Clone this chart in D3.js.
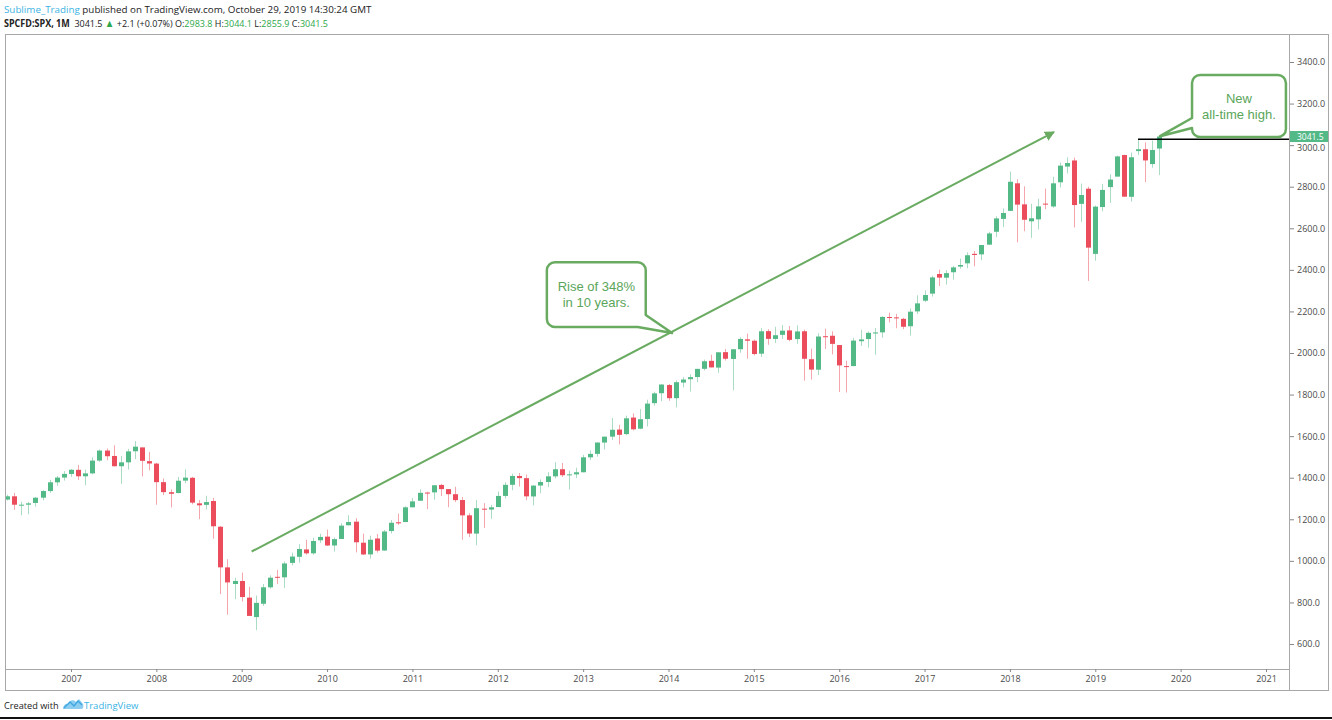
<!DOCTYPE html>
<html>
<head>
<meta charset="utf-8">
<style>
  body { margin: 0; background: #fff; }
  svg { display: block; font-family: "Open Sans", sans-serif; }
</style>
</head>
<body>
<script src="https://d3js.org/d3.v7.min.js"></script>
<script>

// monthly SPX candles, first bar = April 2006
var firstMonth = new Date(Date.UTC(2006, 3, 1));

var open = [
  1294.83, 1310.61, 1270.05, 1270.20, 1278.53, 1303.80, 1335.82, 1377.76, 1400.63,
  1418.03, 1437.90, 1406.80, 1420.83, 1482.37, 1530.62, 1504.66, 1455.18, 1473.96, 1527.29, 1545.79, 1479.63,
  1467.97, 1378.60, 1330.45, 1326.41, 1385.97, 1399.62, 1276.69, 1269.42, 1287.83, 1164.17, 968.67, 888.61,
  902.99, 823.09, 729.57, 793.59, 872.74, 923.26, 920.82, 990.22, 1019.52, 1054.91, 1036.18, 1098.89,
  1116.56, 1073.89, 1105.36, 1171.23, 1188.58, 1087.30, 1031.10, 1107.53, 1049.72, 1143.49, 1185.71, 1186.60,
  1257.62, 1289.14, 1328.64, 1329.48, 1365.21, 1345.20, 1320.64, 1292.59, 1219.12, 1131.21, 1251.00, 1246.91,
  1258.86, 1312.45, 1365.90, 1408.47, 1397.86, 1309.87, 1362.33, 1379.32, 1406.54, 1440.90, 1412.20, 1416.18,
  1426.19, 1498.11, 1514.68, 1569.18, 1597.55, 1631.71, 1609.78, 1689.42, 1635.95, 1682.41, 1758.70, 1806.55,
  1845.86, 1782.68, 1857.68, 1873.96, 1884.39, 1923.87, 1962.29, 1929.80, 2004.07, 1971.44, 2018.21, 2065.78,
  2058.90, 1996.67, 2105.23, 2067.63, 2087.38, 2108.64, 2067.00, 2104.49, 1970.09, 1919.65, 2080.76, 2082.93,
  2038.20, 1936.94, 1937.09, 2056.62, 2067.17, 2093.94, 2099.34, 2173.15, 2171.33, 2164.33, 2128.68, 2200.17,
  2251.57, 2285.59, 2380.13, 2362.34, 2388.50, 2415.65, 2431.39, 2477.10, 2474.42, 2521.20, 2583.21, 2645.10,
  2683.73, 2816.45, 2715.22, 2633.45, 2642.96, 2718.70, 2704.95, 2821.17, 2896.96, 2926.29, 2717.58, 2790.50,
  2476.96, 2702.32, 2798.22, 2848.63, 2952.33, 2751.53, 2971.41, 2980.32, 2909.01, 2983.8
];
var high = [
  1318.16, 1326.70, 1284.27, 1283.42, 1306.74, 1340.28, 1389.45, 1407.89, 1431.81,
  1441.61, 1461.57, 1438.89, 1498.02, 1535.56, 1540.56, 1555.90, 1503.89, 1538.74, 1576.09, 1545.79, 1523.57,
  1471.77, 1396.02, 1344.19, 1404.08, 1440.24, 1404.05, 1292.17, 1313.15, 1303.04, 1167.03, 1007.51, 918.85,
  943.85, 875.01, 832.98, 888.70, 930.17, 956.23, 996.68, 1039.47, 1080.15, 1101.36, 1111.10, 1130.38,
  1150.45, 1112.42, 1180.69, 1219.80, 1205.13, 1131.23, 1120.95, 1129.24, 1148.90, 1196.14, 1227.08, 1262.60,
  1302.67, 1344.07, 1332.28, 1364.56, 1370.58, 1345.20, 1356.48, 1307.38, 1229.29, 1292.66, 1277.55, 1269.37,
  1333.47, 1378.04, 1419.15, 1422.38, 1415.32, 1363.46, 1391.74, 1426.68, 1474.51, 1470.96, 1434.27, 1448.00,
  1509.94, 1530.94, 1570.28, 1597.57, 1687.18, 1654.19, 1698.78, 1709.67, 1729.86, 1775.22, 1813.55, 1849.44,
  1850.84, 1867.92, 1883.97, 1897.28, 1924.03, 1968.17, 1991.39, 2005.04, 2019.26, 2018.19, 2075.76, 2093.55,
  2064.43, 2119.59, 2114.76, 2125.92, 2134.72, 2129.87, 2132.82, 2112.66, 2020.86, 2094.32, 2116.48, 2104.27,
  2038.20, 1962.96, 2072.21, 2111.05, 2103.48, 2120.55, 2177.09, 2193.81, 2187.87, 2169.60, 2214.10, 2277.53,
  2300.99, 2371.54, 2400.98, 2398.16, 2418.71, 2453.82, 2484.04, 2490.87, 2519.44, 2582.98, 2657.74, 2694.97,
  2872.87, 2835.96, 2801.90, 2717.49, 2742.24, 2791.47, 2848.03, 2916.50, 2940.91, 2939.86, 2815.15, 2800.18,
  2708.95, 2813.49, 2860.31, 2949.52, 2954.13, 2964.15, 3027.98, 3013.59, 3021.99, 3044.1
];
var low = [
  1290.93, 1245.34, 1219.29, 1224.54, 1261.30, 1290.93, 1327.10, 1360.98, 1385.93,
  1403.97, 1389.42, 1363.98, 1416.37, 1476.70, 1484.18, 1454.25, 1370.60, 1439.29, 1489.56, 1406.10, 1435.65,
  1270.05, 1316.75, 1256.98, 1324.35, 1373.07, 1272.00, 1200.44, 1247.45, 1106.39, 839.80, 741.02, 815.69,
  804.22, 734.52, 666.79, 783.32, 866.10, 888.86, 869.32, 978.51, 991.97, 1029.38, 1029.38, 1085.89,
  1071.59, 1044.50, 1105.36, 1170.69, 1040.78, 1028.33, 1010.91, 1039.70, 1048.08, 1131.87, 1173.00, 1186.60,
  1257.62, 1289.14, 1249.05, 1294.70, 1311.80, 1258.07, 1282.86, 1101.54, 1114.22, 1074.77, 1158.66, 1202.37,
  1258.86, 1300.49, 1340.03, 1357.38, 1291.98, 1266.74, 1325.41, 1354.65, 1396.56, 1403.28, 1343.35, 1398.11,
  1426.19, 1485.01, 1501.48, 1536.03, 1581.28, 1560.33, 1604.57, 1627.47, 1633.41, 1646.47, 1746.20, 1767.99,
  1770.45, 1737.92, 1834.44, 1814.36, 1859.79, 1915.98, 1930.67, 1904.78, 1964.04, 1820.66, 2001.01, 1972.56,
  1988.44, 1980.90, 2039.69, 2048.38, 2067.93, 2056.32, 2044.02, 1867.01, 1871.91, 1893.70, 2019.39, 1993.26,
  1812.29, 1810.10, 1937.09, 2033.80, 2025.91, 1991.68, 2074.02, 2147.58, 2119.12, 2114.72, 2083.79, 2187.44,
  2245.13, 2271.65, 2322.25, 2328.95, 2352.72, 2405.70, 2407.70, 2417.35, 2446.55, 2520.40, 2557.45, 2605.52,
  2682.36, 2532.69, 2585.89, 2553.80, 2594.62, 2691.99, 2698.95, 2796.34, 2864.12, 2603.54, 2631.09, 2346.58,
  2443.96, 2681.83, 2722.27, 2848.63, 2750.52, 2728.81, 2952.22, 2822.12, 2891.85, 2855.9
];
var close = [
  1310.61, 1270.09, 1270.20, 1276.66, 1303.82, 1335.85, 1377.94, 1400.63, 1418.30,
  1438.24, 1406.82, 1420.86, 1482.37, 1530.62, 1503.35, 1455.27, 1473.99, 1526.75, 1549.38, 1481.14, 1468.36,
  1378.55, 1330.63, 1322.70, 1385.59, 1400.38, 1280.00, 1267.38, 1282.83, 1166.36, 968.75, 896.24, 903.25,
  825.88, 735.09, 797.87, 872.81, 919.14, 919.32, 987.48, 1020.62, 1057.08, 1036.19, 1095.63, 1115.10,
  1073.87, 1104.49, 1169.43, 1186.69, 1089.41, 1030.71, 1101.60, 1049.33, 1141.20, 1183.26, 1180.55, 1257.64,
  1286.12, 1327.22, 1325.83, 1363.61, 1345.20, 1320.64, 1292.28, 1218.89, 1131.42, 1253.30, 1246.96, 1257.60,
  1312.41, 1365.68, 1408.47, 1397.91, 1310.33, 1362.16, 1379.32, 1406.58, 1440.67, 1412.16, 1416.18, 1426.19,
  1498.11, 1514.68, 1569.19, 1597.57, 1630.74, 1606.28, 1685.73, 1632.97, 1681.55, 1756.54, 1805.81, 1848.36,
  1782.59, 1859.45, 1872.34, 1883.95, 1923.57, 1960.23, 1930.67, 2003.37, 1972.29, 2018.05, 2067.56, 2058.90,
  1994.99, 2104.50, 2067.89, 2085.51, 2107.39, 2063.11, 2103.84, 1972.18, 1920.03, 2079.36, 2080.41, 2043.94,
  1940.24, 1932.23, 2059.74, 2065.30, 2096.95, 2098.86, 2173.60, 2170.95, 2168.27, 2126.15, 2198.81, 2238.83,
  2278.87, 2363.64, 2362.72, 2384.20, 2411.80, 2423.41, 2470.30, 2471.65, 2519.36, 2575.26, 2647.58, 2673.61,
  2823.81, 2713.83, 2640.87, 2648.05, 2705.27, 2718.37, 2816.29, 2901.52, 2913.98, 2711.74, 2760.17, 2506.85,
  2704.10, 2784.49, 2834.40, 2945.83, 2752.06, 2941.76, 2980.38, 2926.46, 2976.74, 3041.5
];

var yearTicks = [2007, 2008, 2009, 2010, 2011, 2012, 2013, 2014, 2015, 2016, 2017, 2018, 2019, 2020, 2021];
var priceTicks = [600, 800, 1000, 1200, 1400, 1600, 1800, 2000, 2200, 2400, 2600, 2800, 3000, 3200, 3400];

var lastPrice = 3041.5;
var levelLine = 3027.98;      // July 2019 high

var upColor = "#53b987", downColor = "#eb4d5c", noteColor = "#6aab62";

var width = 1332, height = 720;
var plotLeft = 5, plotRight = 1289, plotTop = 34, plotBottom = 669;

var svg = d3.select("body").append("svg")
    .attr("width", width)
    .attr("height", height);

// x works in months counted from Jan 2007, like the bar index of the chart
function monthIndex(d) {
  return (d.getUTCFullYear() - 2007) * 12 + d.getUTCMonth();
}
var x = d3.scaleLinear().domain([0, 168]).range([71, 1266]);
var y = d3.scaleLinear().domain([600, 3400]).range([644, 62]);

var months = d3.utcMonth.range(firstMonth, d3.utcMonth.offset(firstMonth, close.length));
var bars = months.map(function(d, i) {
  return {date: d, i: monthIndex(d), o: open[i], h: high[i], l: low[i], c: close[i]};
});

// header
var head = svg.append("g").attr("font-size", 9.8).attr("fill", "#222");
var l1 = head.append("text").attr("x", 4).attr("y", 13);
l1.append("tspan").attr("fill", "#3bb3e4").text("Sublime_Trading");
l1.append("tspan").text(" published on TradingView.com, October 29, 2019 14:30:24 GMT");

// second line: symbol legend, squeezed a bit to the width of the original
var legend = [
  {t: "SPCFD:SPX, 1M", bold: true},
  {t: "\u00a0\u00a0" + lastPrice.toFixed(1) + " "},
  {t: "▲", green: true},
  {t: " +2.1 (+0.07%) O:"},
  {t: "2983.8", green: true},
  {t: " H:"},
  {t: "3044.1", green: true},
  {t: " L:"},
  {t: "2855.9", green: true},
  {t: " C:"},
  {t: "3041.5", green: true}
];
var l2 = head.append("text")
    .attr("x", 0).attr("y", 27)
    .attr("transform", "translate(4,0) scale(0.92,1)");
l2.selectAll("tspan")
  .data(legend)
  .join("tspan")
    .attr("font-weight", function(d) { return d.bold ? "bold" : null; })
    .attr("fill", function(d) { return d.green ? "#2ea84a" : null; })
    .attr("font-size", function(d) { return d.t === "▲" ? 10.5 : null; })
    .text(function(d) { return d.t; });

// frame
var frame = svg.append("g").attr("stroke", "#a8a8a8").attr("fill", "none");
frame.append("rect")
    .attr("x", plotLeft + 0.5).attr("y", plotTop + 0.5)
    .attr("width", 1328 - plotLeft).attr("height", 690 - plotTop);
frame.append("line")
    .attr("x1", plotRight + 0.5).attr("x2", plotRight + 0.5)
    .attr("y1", plotTop).attr("y2", 690);
frame.append("line")
    .attr("x1", plotLeft).attr("x2", plotRight)
    .attr("y1", plotBottom + 0.5).attr("y2", plotBottom + 0.5);

svg.append("clipPath").attr("id", "plot")
  .append("rect")
    .attr("x", plotLeft + 1).attr("y", plotTop + 1)
    .attr("width", plotRight - plotLeft - 1).attr("height", plotBottom - plotTop - 1);

var plot = svg.append("g").attr("clip-path", "url(#plot)");

// candles
var candle = plot.selectAll("g.bar")
  .data(bars)
  .join("g")
    .attr("class", "bar")
    .attr("transform", function(d) { return "translate(" + Math.round(x(d.i)) + ",0)"; });

candle.append("line")
    .attr("x1", 0.5).attr("x2", 0.5)
    .attr("y1", function(d) { return y(d.h); })
    .attr("y2", function(d) { return y(d.l); })
    .attr("stroke", function(d) { return d.c >= d.o ? upColor : downColor; })
    .attr("stroke-opacity", 0.5);

candle.append("rect")
    .attr("x", -2)
    .attr("width", 5)
    .attr("y", function(d) { return y(Math.max(d.o, d.c)); })
    .attr("height", function(d) { return Math.max(1, Math.abs(y(d.o) - y(d.c))); })
    .attr("fill", function(d) { return d.c >= d.o ? upColor : downColor; });

// horizontal level at the July 2019 high
plot.append("line")
    .attr("x1", x(150)).attr("x2", plotRight)
    .attr("y1", y(levelLine)).attr("y2", y(levelLine))
    .attr("stroke", "#000")
    .attr("stroke-width", 1.5);

// trend arrow
svg.append("defs").append("marker")
    .attr("id", "head")
    .attr("viewBox", "0 0 10 10")
    .attr("refX", 9).attr("refY", 5)
    .attr("markerWidth", 5).attr("markerHeight", 5)
    .attr("orient", "auto")
  .append("path")
    .attr("d", "M0,0L10,5L0,10z")
    .attr("fill", noteColor);

plot.append("line")
    .attr("x1", x(25.4)).attr("y1", y(1045))
    .attr("x2", x(138.2)).attr("y2", y(3063))
    .attr("stroke", noteColor)
    .attr("stroke-width", 2)
    .attr("marker-end", "url(#head)");

// callouts
function drawCallout(p, lines, cx, top) {
  var g = svg.append("g");
  g.append("path")
      .attr("d", p.toString())
      .attr("fill", "#fff")
      .attr("stroke", noteColor)
      .attr("stroke-width", 2.5)
      .attr("stroke-linejoin", "round");
  g.append("text")
      .attr("font-family", "'Liberation Sans', Arial, sans-serif")
      .attr("font-size", 13)
      .attr("fill", "#5aa55a")
      .attr("text-anchor", "middle")
    .selectAll("tspan")
    .data(lines)
    .join("tspan")
      .attr("x", cx)
      .attr("y", function(d, k) { return top + k * 16; })
      .text(function(d) { return d; });
}

var r = 8;
// box 1: tail leaves the lower right corner
var b1 = {x0: x(66.9), x1: x(80.8), y0: y(2437), y1: y(2125)};
var t1 = [x(84.5), y(2096)];
var p1 = d3.path();
p1.moveTo(b1.x0 + r, b1.y0);
p1.lineTo(b1.x1 - r, b1.y0);
p1.arcTo(b1.x1, b1.y0, b1.x1, b1.y0 + r, r);
p1.lineTo(b1.x1, b1.y1 - 12);
p1.lineTo(t1[0], t1[1]);
p1.lineTo(b1.x1 - 8, b1.y1);
p1.lineTo(b1.x0 + r, b1.y1);
p1.arcTo(b1.x0, b1.y1, b1.x0, b1.y1 - r, r);
p1.lineTo(b1.x0, b1.y0 + r);
p1.arcTo(b1.x0, b1.y0, b1.x0 + r, b1.y0, r);
p1.closePath();
drawCallout(p1, ["Rise of 348%", "in 10 years."], (b1.x0 + b1.x1) / 2, b1.y0 + 29);

// box 2: tail leaves the left side
var b2 = {x0: x(157.6), x1: x(170.8), y0: y(3337), y1: y(3039)};
var t2 = [x(153.1), y(3043)];
var p2 = d3.path();
p2.moveTo(b2.x0 + r, b2.y0);
p2.lineTo(b2.x1 - r, b2.y0);
p2.arcTo(b2.x1, b2.y0, b2.x1, b2.y0 + r, r);
p2.lineTo(b2.x1, b2.y1 - r);
p2.arcTo(b2.x1, b2.y1, b2.x1 - r, b2.y1, r);
p2.lineTo(b2.x0 + r, b2.y1);
p2.arcTo(b2.x0, b2.y1, b2.x0, b2.y1 - r, r);
p2.lineTo(b2.x0, b2.y1 - 9);
p2.lineTo(t2[0], t2[1]);
p2.lineTo(b2.x0, b2.y1 - 19);
p2.lineTo(b2.x0, b2.y0 + r);
p2.arcTo(b2.x0, b2.y0, b2.x0 + r, b2.y0, r);
p2.closePath();
drawCallout(p2, ["New", "all-time high."], (b2.x0 + b2.x1) / 2, b2.y0 + 28);

// axes
var xAxis = d3.axisBottom(x)
    .tickValues(yearTicks.map(function(yr) { return (yr - 2007) * 12; }))
    .tickFormat(function(v) { return String(2007 + v / 12); })
    .tickSize(3)
    .tickPadding(4);

var gx = svg.append("g")
    .attr("transform", "translate(0," + plotBottom + ")")
    .call(xAxis);

var yAxis = d3.axisRight(y)
    .tickValues(priceTicks)
    .tickFormat(d3.format(".1f"))
    .tickSize(4)
    .tickPadding(3);

var gy = svg.append("g")
    .attr("transform", "translate(" + (plotRight + 1) + ",0)")
    .call(yAxis);

[gx, gy].forEach(function(g) {
  g.select(".domain").remove();
  g.selectAll(".tick line").attr("stroke", "#888");
  g.selectAll(".tick text")
      .attr("fill", "#4a4a4a")
      .attr("font-family", "'Open Sans', sans-serif")
      .attr("font-size", 9);
});
// the 3000.0 label sits right under the price tag, nudge it clear
gy.selectAll(".tick").filter(function(d) { return d === 3000; })
  .select("text").attr("dy", "0.62em");

// last price tag
var tag = svg.append("g").attr("transform", "translate(" + (plotRight + 1) + "," + y(lastPrice) + ")");
tag.append("rect")
    .attr("x", 0).attr("y", -5.5)
    .attr("width", 38).attr("height", 11)
    .attr("fill", upColor);
tag.append("text")
    .attr("x", 7).attr("y", 3)
    .attr("font-size", 8.5)
    .attr("fill", "#fff")
    .text(lastPrice.toFixed(1));

// footer
var foot = svg.append("g");
foot.append("text")
    .attr("x", 4).attr("y", 709)
    .attr("font-size", 9.2)
    .attr("fill", "#222")
    .text("Created with");
foot.append("path")
    .attr("d", "M63,709 C63,705 66,703 68,704 C69,700 74,699 76,702 L79,699 L83,704 C84,707 83,709 81,709 Z")
    .attr("fill", "#8ccdf0");
foot.append("path")
    .attr("d", "M64,708 L70,702 L74,706 L78,701 L82,705")
    .attr("fill", "none")
    .attr("stroke", "#3ea6e0")
    .attr("stroke-width", 1.3);
foot.append("text")
    .attr("x", 84).attr("y", 709)
    .attr("font-size", 9.5)
    .attr("fill", "#3bb3e4")
    .text("TradingView");

svg.append("line")
    .attr("x1", 0).attr("x2", width)
    .attr("y1", 718).attr("y2", 718)
    .attr("stroke", "#111")
    .attr("stroke-width", 2);

</script>
</body>
</html>
